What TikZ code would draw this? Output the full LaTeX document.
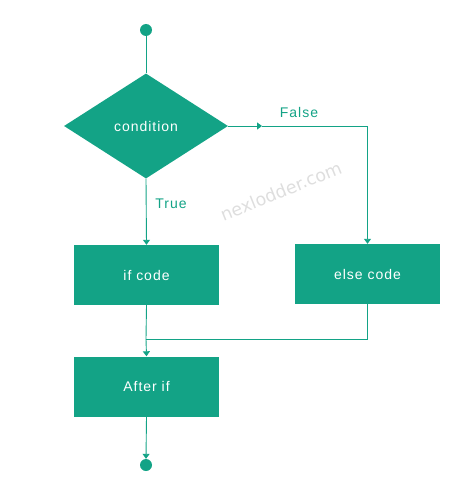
\documentclass[tikz,border=0pt]{standalone}
\usepackage{fontspec}
\setmainfont{Liberation Sans}[LetterSpace=7]
\newfontfamily\wmfont{DejaVu Sans}
\usetikzlibrary{shapes.geometric,arrows.meta}
\definecolor{teal1}{RGB}{19,163,134}
\begin{document}
\begin{tikzpicture}[x=1pt,y=-1pt,
  txt/.style={font=\fontsize{14}{16}\selectfont},
  box/.style={txt,fill=teal1,draw=none,minimum width=145pt,minimum height=60pt,inner sep=0pt,text=white},
  dot/.style={circle,fill=teal1,minimum size=12pt,inner sep=0pt},
  lab/.style={txt,text=teal1},
  conn/.style={draw=teal1,line width=0.9pt,-{Triangle[width=7pt,length=5pt]}},
  plain/.style={draw=teal1,line width=0.9pt}]
\useasboundingbox (0,0) rectangle (462,503);
\node[dot] (start) at (146,30) {};
\node[diamond,txt,fill=teal1,draw=none,aspect=1.56,minimum width=164pt,minimum height=105pt,inner sep=0pt,text=white] (cond) at (146,126) {condition};
\node[box] (ifc) at (146.5,275) {if code};
\node[box] (elsec) at (367.5,274) {else code};
\node[box] (after) at (146.5,386.5) {After if};
\node[dot] (end) at (146,465) {};
\coordinate (mid) at (262,126);
\coordinate (merge) at (146,339);
\node[lab] (false) at (299,112) {False};
\node[lab] (true) at (171,204) {True};
\node[text=black!13,rotate=22,font=\wmfont\fontsize{17.5}{19}\selectfont] (wm) at (281,191) {nexlodder.com};
\draw[plain] (start) -- (cond.north);
\draw[conn] (cond.east) -- (mid);
\draw[conn] (mid) -| (elsec.north);
\draw[conn] (cond.south) -- (ifc.north);
\draw[plain] (ifc.south) -- (merge);
\draw[plain] (elsec.south) |- (merge);
\draw[conn] (merge) -- (after.north);
\draw[conn] (after.south) -- (end.north);
\end{tikzpicture}
\end{document}
